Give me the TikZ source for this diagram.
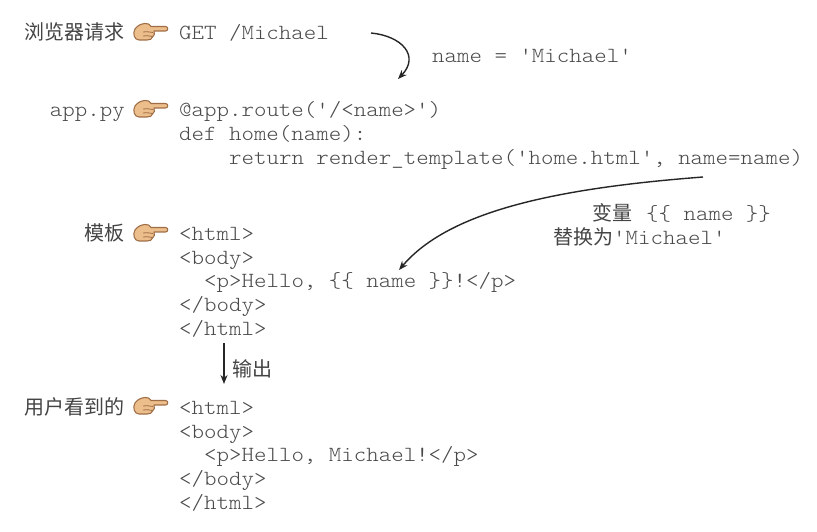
\documentclass[tikz,border=0pt]{standalone}
\usepackage{fontspec}
\setmonofont{Latin Modern Mono Light}[FakeStretch=1.1]
\newfontfamily\cjk{Noto Sans CJK SC}
\usetikzlibrary{arrows.meta}
\definecolor{codegray}{HTML}{4a4a4a}
\definecolor{labgray}{HTML}{444444}
\definecolor{handfill}{RGB}{236,190,140}
\definecolor{handline}{RGB}{160,110,70}
\tikzset{
  code/.style={anchor=base west, inner sep=0pt, text=codegray, font=\fontsize{21.6bp}{24bp}\ttfamily},
  lab/.style={anchor=base east, inner sep=0pt, text=labgray, font=\fontsize{20bp}{24bp}\cjk},
  codelab/.style={anchor=base east, inner sep=0pt, text=codegray, font=\fontsize{21.6bp}{24bp}\ttfamily},
  note/.style={anchor=base west, inner sep=0pt, text=codegray, font=\fontsize{21.6bp}{24bp}\ttfamily},
  flow/.style={draw=black!85, line width=1.4bp, -{Stealth[length=9bp,width=7bp]}},
  hand/.pic={
    \path[fill=handfill, draw=handline, line width=1.1bp, line join=round]
      (2,6) .. controls (5,2) and (8,1) .. (12,0.5)
      .. controls (15,0) and (17,1.5) .. (18,3.5)
      -- (32.5,3.5) .. controls (35.5,3.5) and (35.5,8) .. (32.5,8)
      -- (21,8) .. controls (22,10) and (21.5,13) .. (19.5,14)
      .. controls (19,16) and (17,17) .. (14,17)
      -- (6,17) .. controls (1,17) and (-0.5,10) .. (2,6) -- cycle;
    \draw[handline, line width=0.8bp] (10,9) .. controls (14,8.5) and (17,9) .. (20,9.5);
    \draw[handline, line width=0.8bp] (10,13) .. controls (14,12.5) and (17,13) .. (19.5,13.5);
  }
}
\begin{document}
\begin{tikzpicture}[x=1bp, y=-1bp]
\useasboundingbox[fill=white] (0,0) rectangle (817,532);

% row 1: browser request
\node[lab] (l1) at (125,40) {浏览器请求};
\pic at (133,23) {hand};
\node[code] (get) at (179,40) {GET /Michael};
\coordinate (a1s) at (371,33);
\coordinate (a1e) at (398,79);
\draw[flow] (a1s) .. controls (402,36) and (420,56) .. (a1e);
\node[note] (nm) at (432,63) {name = 'Michael'};

% row 2: app.py
\node[codelab] (l2) at (125,117) {app.py};
\pic at (133,100) {hand};
\node[code] (c1) at (179,117) {@app.route('/<name>')};
\node[code] (c2) at (179,141) {def home(name):};
\node[code] (c3) at (229,165) {return render\_template('home.html', name=name)};

% substitution arrow
\coordinate (a2s) at (703,177);
\coordinate (a2e) at (399,270);
\draw[flow] (a2s) .. controls (560,188) and (450,210) .. (a2e);
\node[anchor=base west, inner sep=0pt] (v1) at (592,221)
  {{\fontsize{20bp}{24bp}\cjk\color{labgray}变量}\hspace{14bp}{\fontsize{21.6bp}{24bp}\ttfamily\color{codegray}\{\{ name \}\}}};
\node[anchor=base west, inner sep=0pt] (v2) at (553,245)
  {{\fontsize{20bp}{24bp}\cjk\color{labgray}替换为}{\fontsize{21.6bp}{24bp}\ttfamily\color{codegray}'Michael'}};

% row 3: template
\node[lab] (l3) at (125,241) {模板};
\pic at (133,224) {hand};
\node[code] (t1) at (179,241) {<html>};
\node[code] (t2) at (179,265) {<body>};
\node[code] (t3) at (204,288) {<p>Hello, \{\{ name \}\}!</p>};
\node[code] (t4) at (179,312) {</body>};
\node[code] (t5) at (179,335) {</html>};

% output arrow
\coordinate (a3s) at (224,343);
\coordinate (a3e) at (224,384);
\draw[flow] (a3s) -- (a3e);
\node[anchor=base west, inner sep=0pt, text=labgray, font=\fontsize{20bp}{24bp}\cjk] (out) at (232,376) {输出};

% row 4: user sees
\node[lab] (l4) at (125,414) {用户看到的};
\pic at (133,397) {hand};
\node[code] (u1) at (179,414) {<html>};
\node[code] (u2) at (179,438) {<body>};
\node[code] (u3) at (204,461) {<p>Hello, Michael!</p>};
\node[code] (u4) at (179,485) {</body>};
\node[code] (u5) at (179,509) {</html>};
\end{tikzpicture}
\end{document}
